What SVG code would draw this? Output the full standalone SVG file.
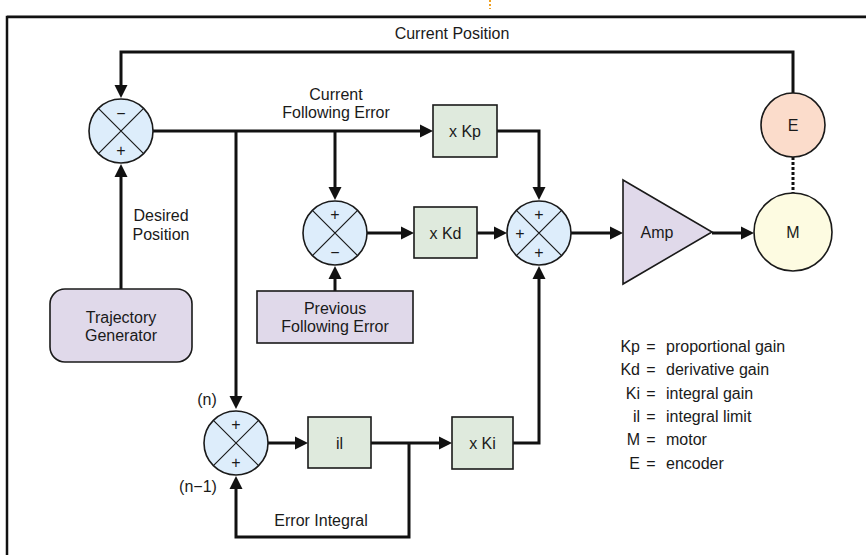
<svg xmlns="http://www.w3.org/2000/svg" width="866" height="555" viewBox="0 0 866 555">
<style>
text{font-family:"Liberation Sans",Arial,sans-serif;font-size:16px;fill:#1a1a1a;text-anchor:middle;dominant-baseline:central}
.sum{fill:#ddedfb;stroke:#1a1a1a;stroke-width:1.6}
.x{stroke:#1a1a1a;stroke-width:1.2;fill:none}
.gain{fill:#dfeadd;stroke:#1a1a1a;stroke-width:1.6}
.lav{fill:#e0d9ea;stroke:#1a1a1a;stroke-width:1.6}
.wire{fill:none;stroke:#111;stroke-width:3;stroke-linejoin:miter}
.arr{marker-end:url(#ah)}
.lg{text-anchor:start}
.lr{text-anchor:end}
</style>
<defs>
<marker id="ah" markerUnits="userSpaceOnUse" markerWidth="14" markerHeight="14" refX="9" refY="7" orient="auto">
<path d="M0,0.5 L13,7 L0,13.5 z" fill="#111"/>
</marker>
</defs>
<rect width="866" height="555" fill="#fff"/>
<g id="frame">
<path d="M7,15.5 H866" stroke="#aaa" stroke-width="1" fill="none"/>
<path d="M7,555 V17 H866" stroke="#111" stroke-width="2.5" fill="none"/>
<path d="M490,0 V9" stroke="#f0a020" stroke-width="2" stroke-dasharray="2,2" fill="none"/>
</g>
<g id="connectors">
<path class="wire arr" d="M793,93 V52 H121 V94"/>
<path class="wire arr" d="M121,289 V168"/>
<path class="wire arr" d="M153,131 H429"/>
<path class="wire arr" d="M236,131 V405"/>
<path class="wire arr" d="M335,131 V196"/>
<path class="wire arr" d="M497,131 H539 V196"/>
<path class="wire arr" d="M367,233 H410"/>
<path class="wire arr" d="M477,233 H503"/>
<path class="wire arr" d="M335,291 V270"/>
<path class="wire arr" d="M571,233 H619"/>
<path class="wire arr" d="M712,233 H750"/>
<path class="wire" d="M793,157 V193" stroke-dasharray="3,2"/>
<path class="wire arr" d="M268,443 H304"/>
<path class="wire arr" d="M371,443 H448"/>
<path class="wire arr" d="M409,443 V537 H236 V480"/>
<path class="wire arr" d="M513,443 H539 V270"/>
</g>
<g id="label-current-position"><text x="452" y="33">Current Position</text></g>
<g id="label-current-following-error"><text x="336" y="94">Current</text><text x="336" y="112">Following Error</text></g>
<g id="label-desired-position"><text x="161" y="215">Desired</text><text x="161" y="234">Position</text></g>
<g id="label-error-integral"><text x="321" y="520">Error Integral</text></g>
<g id="sum1">
<circle class="sum" cx="121" cy="131" r="32"/>
<path class="x" d="M98.4,108.4 L143.6,153.6 M143.6,108.4 L98.4,153.6"/>
<text x="121" y="113">−</text><text x="121" y="150">+</text>
</g>
<g id="sum2">
<circle class="sum" cx="335" cy="233" r="32"/>
<path class="x" d="M312.4,210.4 L357.6,255.6 M357.6,210.4 L312.4,255.6"/>
<text x="335" y="214">+</text><text x="335" y="252">−</text>
</g>
<g id="sum3">
<circle class="sum" cx="539" cy="233" r="32"/>
<path class="x" d="M516.4,210.4 L561.6,255.6 M561.6,210.4 L516.4,255.6"/>
<text x="539" y="214">+</text><text x="520" y="233">+</text><text x="539" y="252">+</text>
</g>
<g id="sum4">
<circle class="sum" cx="236" cy="443" r="32"/>
<path class="x" d="M213.4,420.4 L258.6,465.6 M258.6,420.4 L213.4,465.6"/>
<text x="236" y="424">+</text><text x="236" y="462">+</text>
<text x="207" y="399">(n)</text><text x="198" y="486">(n−1)</text>
</g>
<g id="kp"><rect class="gain" x="433" y="105" width="64" height="52"/><text x="465" y="131">x Kp</text></g>
<g id="kd"><rect class="gain" x="414" y="207" width="63" height="51"/><text x="445.5" y="233">x Kd</text></g>
<g id="il"><rect class="gain" x="308" y="417" width="63" height="51"/><text x="339.5" y="443">il</text></g>
<g id="ki"><rect class="gain" x="452" y="417" width="61" height="52"/><text x="482.5" y="443">x Ki</text></g>
<g id="previous-following-error"><rect class="lav" x="257" y="291" width="156" height="52"/><text x="335" y="308">Previous</text><text x="335" y="326">Following Error</text></g>
<g id="trajectory-generator"><rect class="lav" x="50" y="289" width="142" height="73" rx="15"/><text x="121" y="317">Trajectory</text><text x="121" y="335">Generator</text></g>
<g id="amp"><path class="lav" d="M623,180 L712,232 L623,284 z"/><text x="657" y="232">Amp</text></g>
<g id="encoder"><circle cx="793" cy="125" r="32" fill="#fbdccb" stroke="#1a1a1a" stroke-width="1.6"/><text x="793" y="125">E</text></g>
<g id="motor"><circle cx="793" cy="232" r="39" fill="#fdfbe1" stroke="#1a1a1a" stroke-width="1.6"/><text x="793" y="232">M</text></g>
<g id="legend">
<text class="lr" x="640" y="346">Kp</text><text x="651" y="346">=</text><text class="lg" x="666" y="346">proportional gain</text>
<text class="lr" x="640" y="369">Kd</text><text x="651" y="369">=</text><text class="lg" x="666" y="369">derivative gain</text>
<text class="lr" x="640" y="393">Ki</text><text x="651" y="393">=</text><text class="lg" x="666" y="393">integral gain</text>
<text class="lr" x="640" y="416">il</text><text x="651" y="416">=</text><text class="lg" x="666" y="416">integral limit</text>
<text class="lr" x="640" y="439">M</text><text x="651" y="439">=</text><text class="lg" x="666" y="439">motor</text>
<text class="lr" x="640" y="463">E</text><text x="651" y="463">=</text><text class="lg" x="666" y="463">encoder</text>
</g>
</svg>
